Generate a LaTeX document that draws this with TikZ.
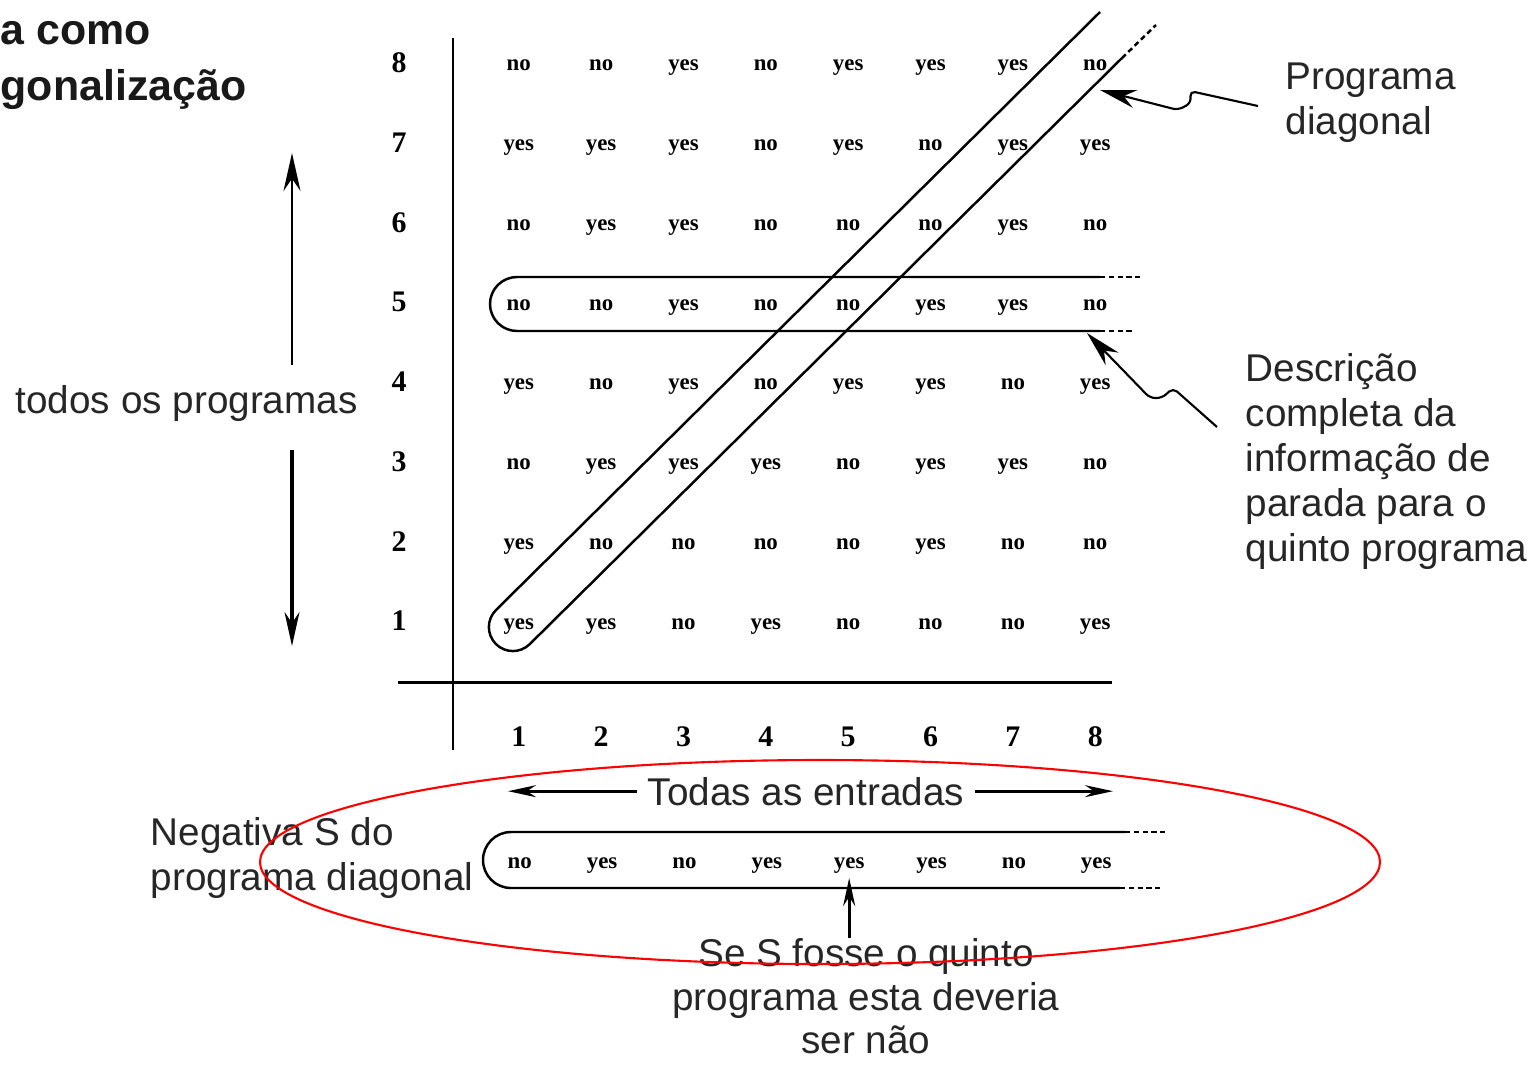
\documentclass[tikz,border=0pt]{standalone}
\usepackage{fontspec}
\setmainfont{Liberation Sans}
\newfontfamily\tabfont{Liberation Serif}
\usetikzlibrary{matrix,arrows.meta}

\begin{document}
\begin{tikzpicture}[x=0.01cm,y=0.01cm,
    cell/.style={minimum width=0.823cm,minimum height=0.797cm,inner sep=0pt,text height=1.2ex,
    text depth=0.35ex,font=\tabfont\bfseries\fontsize{6.5}{7}\selectfont},
    num/.style={inner sep=0pt,font=\tabfont\bfseries\fontsize{8.5}{9}\selectfont},
    lbl/.style={inner sep=0pt,align=left,text=black!85,font=\fontsize{11}{12.8}\selectfont},
    band/.style={line width=0.7pt},
    bandend/.style={line width=0.7pt,dash pattern=on 1.5pt off 1pt},
    axis/.style={line width=0.85pt},
    wavy/.style={line width=0.6pt,rounded corners=1.5pt,-{Stealth[length=0.36cm,width=0.18cm]}},
    tip/.style={line width=0.8pt,-{Stealth[length=0.28cm,width=0.12cm]}}]
    \useasboundingbox (0,0) rectangle (1536,-1066);

    \node[anchor=base west,inner sep=0pt,text=black!90,font=\bfseries\fontsize{12.2}{16}\selectfont]
    (ttl1) at (0,-44) {a como};
    \node[anchor=base west,inner sep=0pt,text=black!90,font=\bfseries\fontsize{12.2}{16}\selectfont]
    (ttl2) at (0,-100) {gonalização};

    \matrix (m) [matrix of nodes, nodes={cell}, row sep=0pt, column sep=0pt] at (807,-342)
    { no & no & yes & no & yes & yes & yes & no \\
      yes & yes & yes & no & yes & no & yes & yes \\
      no & yes & yes & no & no & no & yes & no \\
      no & no & yes & no & no & yes & yes & no \\
      yes & no & yes & no & yes & yes & no & yes \\
      no & yes & yes & yes & no & yes & yes & no \\
      yes & no & no & no & no & yes & no & no \\
      yes & yes & no & yes & no & no & no & yes \\
    };

    \coordinate (rowx) at (399,0);
    \coordinate (coly) at (0,-737);
    \foreach \r [count=\i] in {8,7,...,1}
      \node[num] (row\r) at (rowx |- m-\i-1) {\r};
    \foreach \c in {1,...,8}
      \node[num] (col\c) at (m-8-\c |- coly) {\c};

    \draw[axis] (453,-38) -- (453,-750);
    \draw[axis] (398,-682) -- (1112,-682);

    \draw[band] (1100,-277) -- (517,-277) arc[start angle=90,end angle=270,radius=27] -- (1100,-331);
    \draw[bandend] (1100,-277) -- (1140,-277) (1100,-331) -- (1135,-331);

    \draw[band] (1100,-12) -- (496,-610) arc[start angle=134.7,end angle=314.7,radius=24] -- (1122,-58);
    \draw[bandend] (1122,-58) -- (1156,-25);

    \matrix (s) [matrix of nodes, nodes={cell}, row sep=0pt, column sep=0pt] at (808,-861)
    { no & yes & no & yes & yes & yes & no & yes \\ };
    \draw[band] (1125,-832) -- (511,-832) arc[start angle=90,end angle=270,radius=28] -- (1120,-888);
    \draw[bandend] (1125,-832) -- (1165,-832) (1120,-888) -- (1160,-888);

    \node[lbl,anchor=base west] (prog) at (15,-413) {todos os programas};
    \coordinate (upstart) at (292,-365);
    \coordinate (upend) at (292,-153);
    \coordinate (downstart) at (292,-450);
    \coordinate (downend) at (292,-646);
    \draw[line width=0.6pt,-{Stealth[length=0.38cm,width=0.17cm]}] (upstart) -- (upend);
    \draw[line width=0.9pt,-{Stealth[length=0.34cm,width=0.15cm]}] (downstart) -- (downend);

    \node[lbl,anchor=north west] (pd) at (1285,-62) {Programa\\diagonal};
    \node[lbl,anchor=north west] (dc) at (1245,-353)
    {Descrição\\completa da\\informação de\\parada para o\\quinto programa};
    \node[lbl,anchor=north west] (neg) at (150,-817) {Negativa S do\\programa diagonal};
    \node[lbl,anchor=north,align=center,font=\fontsize{11}{12.4}\selectfont] (se) at (866,-938)
    {Se S fosse o quinto\\programa esta deveria\\ser não};
    \node[lbl,anchor=base,inner sep=0.1cm] (te) at (806,-805) {Todas as entradas};

    \coordinate (pdtail) at (1258,-106);
    \coordinate (pdtip) at (1100,-90);
    \draw[wavy] (pdtail) -- (1190,-91) -- (1191,-103) -- (1178,-110) -- (pdtip);
    \coordinate (dctail) at (1217,-427);
    \coordinate (dctip) at (1087,-333);
    \draw[wavy] (dctail) -- (1173,-388) -- (1162,-398) -- (1150,-398) -- (dctip);

    \coordinate (tl) at (508,0);
    \coordinate (tr) at (1113,0);
    \draw[tip] (te.west) -- (te.west -| tl);
    \draw[tip] (te.east) -- (te.east -| tr);
    \draw[tip] (se.north -| s-1-5) -- ([yshift=-0.17cm]s-1-5.center);

    \draw[red,line width=0.6pt] (820,-862) ellipse [x radius=560,y radius=102];
  \end{tikzpicture}
\end{document}
